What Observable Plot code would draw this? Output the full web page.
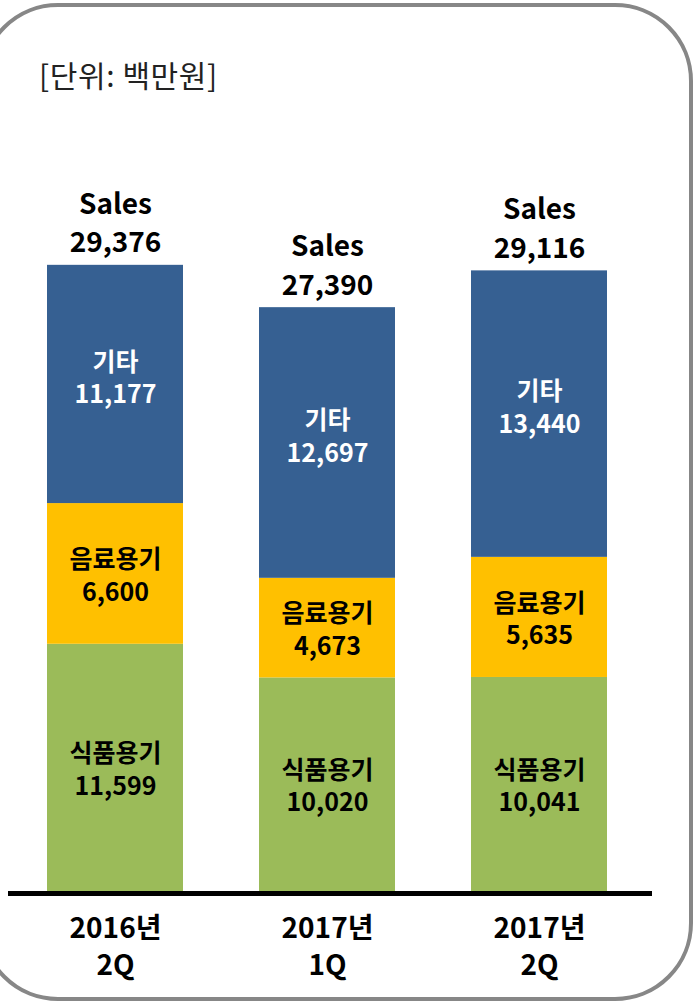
<!DOCTYPE html>
<html>
<head>
<meta charset="utf-8">
<script src="https://cdn.jsdelivr.net/npm/d3@7"></script>
<script src="https://cdn.jsdelivr.net/npm/@observablehq/plot@0.6"></script>
<style>
  html, body { margin: 0; padding: 0; background: #fff; overflow: hidden; }
  #wrap { position: relative; width: 694px; height: 1004px; overflow: hidden; font-family: "Noto Sans CJK KR", "Noto Sans", sans-serif; }
  #frame { position: absolute; left: -20px; top: 3px; width: 713px; height: 998px; box-sizing: border-box; border: 4px solid #878787; border-radius: 78px; }
  #unit { position: absolute; left: 39px; top: 54px; font-size: 30px; line-height: 40px; color: #222; letter-spacing: 0.6px; }
  #chart { position: absolute; left: 0; top: 0; }
</style>
</head>
<body>
<div id="wrap">
  <div id="frame"></div>
  <div id="chart"></div>
  <div id="unit">[단위: 백만원]</div>
</div>
<script>
const periods = ["2016년\n2Q", "2017년\n1Q", "2017년\n2Q"];
const seriesNames = ["식품용기", "음료용기", "기타"];
const food = [11599, 10020, 10041];
const beverage = [6600, 4673, 5635];
const other = [11177, 12697, 13440];
const sales = [29376, 27390, 29116];
const colors = ["#9BBB59", "#FFC000", "#366092"];

const seriesValues = [food, beverage, other];
const rows = [];
periods.forEach((p, i) => {
  seriesNames.forEach((s, j) => {
    rows.push({period: p, series: s, value: seriesValues[j][i]});
  });
});
const totals = periods.map((p, i) => ({period: p, sales: sales[i]}));
const fmt = d3.format(",");
const lbl = d => d.series + "\n" + fmt(d.value);

const chart = Plot.plot({
  width: 694,
  height: 1004,
  marginTop: 0,
  marginBottom: 113,
  marginLeft: 8,
  marginRight: 42,
  style: {fontFamily: "'Noto Sans CJK KR', 'Noto Sans', sans-serif", background: "transparent"},
  x: {domain: periods, paddingInner: 0.3585, paddingOuter: 0.198, align: 0.46, axis: null},
  y: {domain: [0, 41800], axis: null},
  color: {domain: seriesNames, range: colors},
  marks: [
    Plot.barY(rows, Plot.stackY({x: "period", y: "value", z: "series", fill: "series", order: null})),
    Plot.text(rows, Plot.stackY({
      x: "period", y: "value", z: "series", order: null,
      text: d => d.series !== "기타" ? lbl(d) : null,
      fill: "#000", fontSize: 25, fontWeight: "bold", lineHeight: 1.3
    })),
    Plot.text(rows, Plot.stackY({
      x: "period", y: "value", z: "series", order: null,
      text: d => d.series === "기타" ? lbl(d) : null,
      fill: "#fff", fontSize: 25, fontWeight: "bold", lineHeight: 1.3, dy: -8
    })),
    Plot.text(totals, {
      x: "period", y: "sales",
      text: d => "Sales\n" + fmt(d.sales),
      fontSize: 28, fontWeight: "bold", fill: "#000",
      lineAnchor: "bottom", lineHeight: 1.38, dy: -13
    }),
    Plot.ruleY([0], {stroke: "#000", strokeWidth: 5, dy: 2}),
    Plot.text(periods, {
      x: d => d, frameAnchor: "bottom", text: d => d,
      fontSize: 28, fontWeight: "bold", fill: "#000",
      lineAnchor: "top", lineHeight: 1.3, dy: 21
    })
  ]
});
document.getElementById("chart").appendChild(chart);
</script>
</body>
</html>
